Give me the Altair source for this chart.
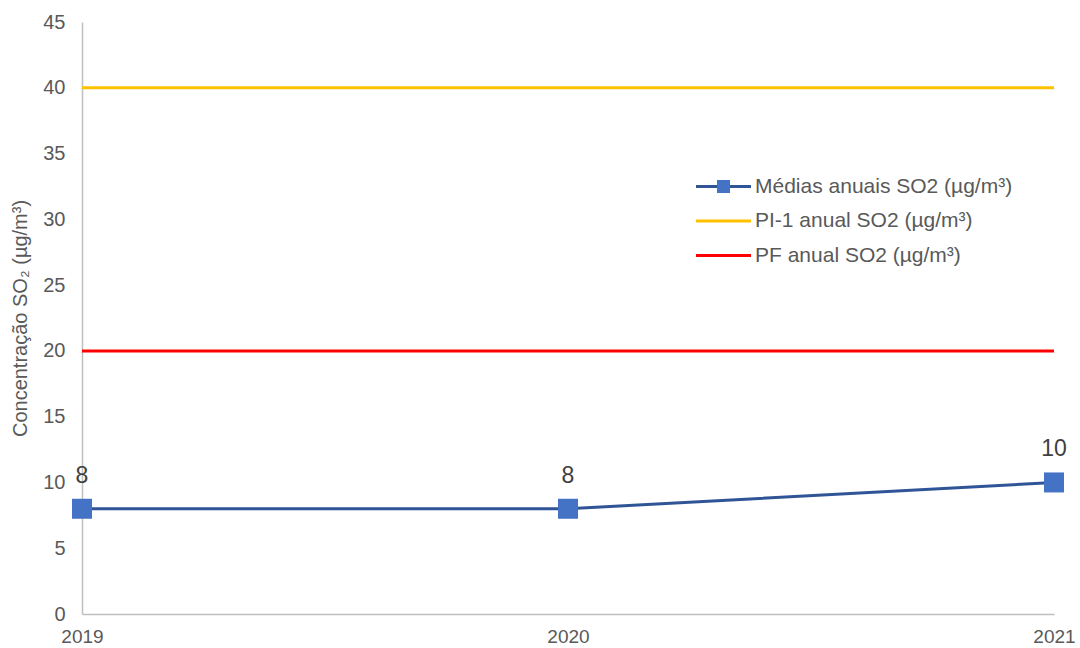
import altair as alt
import pandas as pd

# ---- data ----
years = [2019, 2020, 2021]
medias = [8, 8, 10]
pi1 = [40, 40, 40]
pf = [20, 20, 20]
series_names = ["Médias anuais SO2 (µg/m³)", "PI-1 anual SO2 (µg/m³)", "PF anual SO2 (µg/m³)"]
line_colors = ["#2F5597", "#FFC000", "#FF0000"]
y_ticks = [0, 5, 10, 15, 20, 25, 30, 35, 40, 45]
y_title = "Concentração SO₂ (µg/m³)"

rows = []
for name, vals in zip(series_names, [medias, pi1, pf]):
    for yr, v in zip(years, vals):
        rows.append({"ano": str(yr), "valor": v, "serie": name})
df_lines = pd.DataFrame(rows)
df_pts = pd.DataFrame({"ano": [str(y) for y in years], "valor": medias,
                       "marcador": [series_names[0]] * len(years),
                       "rotulo": [str(v) for v in medias]})

FONT = "Liberation Sans"
TXT = "#595959"
year_labels = [str(y) for y in years]

x_enc = alt.X("ano:O",
              scale=alt.Scale(type="point", domain=year_labels, padding=0),
              axis=alt.Axis(labelAngle=0, labelOverlap=False, grid=False, ticks=False,
                            domainColor="#BFBFBF", domainWidth=1.5,
                            labelFontSize=19, labelColor=TXT, labelPadding=13,
                            labelFont=FONT, title=None))
y_enc = alt.Y("valor:Q",
              scale=alt.Scale(domain=[0, 45], nice=False),
              axis=alt.Axis(values=y_ticks, grid=False, ticks=False, labelOverlap=False,
                            domainColor="#BFBFBF", domainWidth=1.5,
                            labelFontSize=20, labelColor=TXT, labelPadding=17,
                            labelFont=FONT,
                            title=y_title, titleFontSize=20, titleFontWeight="normal",
                            titleColor=TXT, titleFont=FONT, titleAngle=270,
                            titleX=-62, titleY=296, titleAlign="center",
                            titleBaseline="middle"))

lines = alt.Chart(df_lines).mark_line(strokeWidth=3).encode(
    x=x_enc, y=y_enc,
    color=alt.Color("serie:N",
                    scale=alt.Scale(domain=series_names, range=line_colors),
                    legend=alt.Legend(orient="none", legendX=631, legendY=154,
                                      title=None, padding=0,
                                      symbolType="M-5.5,0H5.5", symbolSize=100,
                                      symbolStrokeWidth=3, labelOffset=21,
                                      labelFontSize=21, labelColor=TXT, labelFont=FONT,
                                      rowPadding=12.5, labelLimit=400)),
)

points = alt.Chart(df_pts).mark_point(shape="square", filled=True, size=400,
                                      color="#4472C4", opacity=1).encode(
    x=alt.X("ano:O"), y="valor:Q",
    shape=alt.Shape("marcador:N",
                    scale=alt.Scale(domain=[series_names[0]], range=["square"]),
                    legend=alt.Legend(orient="none", legendX=631, legendY=154,
                                      title=None, padding=0, symbolSize=169,
                                      symbolFillColor="#4472C4", symbolStrokeWidth=0,
                                      labelOffset=21, labelFontSize=21, labelOpacity=0,
                                      labelFont=FONT, zindex=2, labelLimit=400)),
)

labels = alt.Chart(df_pts).mark_text(dy=-26, fontSize=23, color="#404040",
                                     baseline="alphabetic", font=FONT).encode(
    x=alt.X("ano:O"), y="valor:Q", text="rotulo:N")

chart = alt.layer(lines, points, labels).properties(
    width=972, height=592,
    autosize=alt.AutoSizeParams(type="none"),
    padding={"left": 82, "top": 22, "right": 26, "bottom": 34},
    background="white",
).configure(font=FONT).configure_view(stroke=None)

chart.save("out.html", embed_options={"renderer": "svg", "actions": False})
